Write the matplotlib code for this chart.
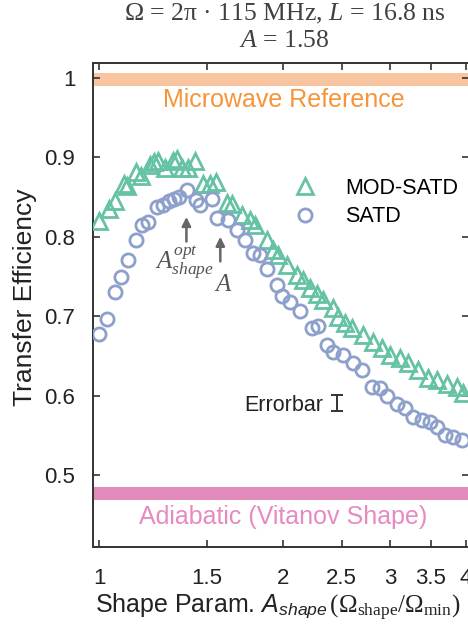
import matplotlib
matplotlib.use('Agg')
import matplotlib.pyplot as plt
from matplotlib.ticker import NullLocator

plt.rcParams['font.family'] = ['Liberation Sans', 'DejaVu Sans']
plt.rcParams['mathtext.fontset'] = 'custom'
plt.rcParams['mathtext.rm'] = 'Liberation Serif'
plt.rcParams['mathtext.it'] = 'Liberation Serif:italic'
plt.rcParams['mathtext.sf'] = 'Liberation Sans:italic'

# MOD-SATD transfer efficiency vs shape parameter
mod_x = [1.00, 1.036, 1.062, 1.098, 1.112, 1.150, 1.172, 1.210, 1.230, 1.248,
         1.284, 1.321, 1.343, 1.367, 1.398, 1.434, 1.480, 1.518, 1.556, 1.619,
         1.650, 1.713, 1.768, 1.802, 1.883, 1.931, 1.967, 2.033, 2.109, 2.162,
         2.218, 2.280, 2.332, 2.423, 2.469, 2.532, 2.597, 2.714, 2.818, 2.908,
         3.002, 3.117, 3.216, 3.340, 3.469, 3.580, 3.719, 3.863, 3.960]
mod_y = [0.820, 0.835, 0.845, 0.866, 0.864, 0.881, 0.876, 0.890, 0.894, 0.895,
         0.886, 0.895, 0.898, 0.887, 0.887, 0.895, 0.867, 0.867, 0.869, 0.842,
         0.841, 0.828, 0.821, 0.815, 0.796, 0.783, 0.777, 0.764, 0.752, 0.746,
         0.735, 0.728, 0.720, 0.710, 0.699, 0.691, 0.685, 0.676, 0.668, 0.660,
         0.651, 0.647, 0.641, 0.632, 0.622, 0.620, 0.615, 0.611, 0.603]

# SATD transfer efficiency vs shape parameter
satd_x = [1.00, 1.030, 1.062, 1.087, 1.115, 1.150, 1.177, 1.202, 1.244, 1.272,
          1.301, 1.326, 1.350, 1.395, 1.443, 1.461, 1.529, 1.558, 1.628, 1.681,
          1.735, 1.790, 1.836, 1.883, 1.956, 1.993, 2.057, 2.136, 2.232, 2.289,
          2.362, 2.423, 2.515, 2.612, 2.697, 2.801, 2.890, 2.964, 3.078, 3.177,
          3.278, 3.383, 3.491, 3.580, 3.694, 3.813, 3.936]
satd_y = [0.677, 0.697, 0.730, 0.749, 0.771, 0.796, 0.815, 0.818, 0.837, 0.840,
          0.845, 0.848, 0.850, 0.859, 0.846, 0.840, 0.848, 0.823, 0.821, 0.809,
          0.796, 0.779, 0.777, 0.760, 0.739, 0.725, 0.718, 0.706, 0.685, 0.687,
          0.664, 0.655, 0.651, 0.641, 0.632, 0.611, 0.609, 0.599, 0.590, 0.584,
          0.573, 0.569, 0.567, 0.561, 0.550, 0.548, 0.544]

# reference levels (bands: low, high)
microwave_band = (0.990, 1.006)
adiabatic_band = (0.4685, 0.4845)

a_opt = 1.39
a_used = 1.58
err_x, err_y, err_half = 2.46, 0.5907, 0.0105

xticks = [1, 1.5, 2, 2.5, 3, 3.5, 4]
xticklabels = ['1', '1.5', '2', '2.5', '3', '3.5', '4']
yticks = [0.5, 0.6, 0.7, 0.8, 0.9, 1.0]
yticklabels = ['0.5', '0.6', '0.7', '0.8', '0.9', '1']

green = '#66c2a5'
blue = '#8da0cb'
dark = '#222222'

fig = plt.figure(figsize=(4.68, 6.32), dpi=100)
ax = fig.add_axes([0.1994, 0.135, 0.8038, 0.7649])
ax.set_xscale('log')
ax.set_xlim(0.9776, 4.053)
ax.set_ylim(0.4097, 1.0185)

ax.axhspan(*microwave_band, color='#f9c4a0', lw=0, zorder=1)
ax.axhspan(*adiabatic_band, color='#e28ab9', lw=0, zorder=1)
ax.text(0.507, 0.972, 'Microwave Reference', transform=ax.get_yaxis_transform(),
        ha='center', va='center', fontsize=18, color='#f7943a')
ax.text(0.505, 0.447, 'Adiabatic (Vitanov Shape)', transform=ax.get_yaxis_transform(),
        ha='center', va='center', fontsize=18, color='#e68ac0')

ax.plot(mod_x, mod_y, ls='none', marker='^', ms=12, mfc='none', mec=green,
        mew=2.0, label='MOD-SATD', zorder=3)
ax.plot(satd_x, satd_y, ls='none', marker='o', ms=9.5, mfc='none', mec=blue,
        mew=2.0, label='SATD', zorder=3)

# arrows marking the optimum and the chosen shape parameter
arrow = dict(arrowstyle='-|>', color='#666666', lw=1.8, mutation_scale=13,
             shrinkA=0, shrinkB=0)
ax.annotate('', xy=(a_opt, 0.825), xytext=(a_opt, 0.794), arrowprops=arrow)
ax.annotate('', xy=(a_used, 0.800), xytext=(a_used, 0.769), arrowprops=arrow)
ax.text(a_opt - 0.01, 0.768, r'$A_{shape}^{opt}$', ha='center', va='center',
        fontsize=18, color='#555555')
ax.text(a_used + 0.02, 0.741, r'$A$', ha='center', va='center',
        fontsize=18, color='#555555')

ax.errorbar([err_x], [err_y], yerr=err_half, fmt='none', ecolor='#333333',
            elinewidth=1.4, capsize=4.3, capthick=1.4)
ax.text(2.33, 0.588, 'Errorbar', ha='right', va='center', fontsize=15.5, color=dark)

ax.legend(loc='upper left', bbox_to_anchor=(0.534, 0.763), frameon=False,
          fontsize=15.5, handlelength=1.0, handletextpad=1.35, labelspacing=0.35,
          borderpad=0, borderaxespad=0)

ax.set_xticks(xticks)
ax.set_xticklabels(xticklabels)
ax.xaxis.set_minor_locator(NullLocator())
ax.set_yticks(yticks)
ax.set_yticklabels(yticklabels)
ax.tick_params(axis='both', direction='in', top=True, right=True, length=5,
               width=1.2, colors='#333333', labelcolor=dark, labelsize=16)
ax.tick_params(axis='y', pad=13)
ax.tick_params(axis='x', pad=15)
for s in ax.spines.values():
    s.set_linewidth(1.4)
    s.set_color('#333333')

ax.set_ylabel('Transfer Efficiency', fontsize=19, color=dark)
ax.yaxis.set_label_coords(-0.150, 0.517)
ax.set_xlabel(r'Shape Param. $\mathsf{A}_{\mathsf{shape}}\,(\Omega_{\mathrm{shape}}/\Omega_{\mathrm{min}})$',
              fontsize=18, color=dark)
ax.xaxis.set_label_coords(0.49, -0.094)

fig.text(0.608, 0.978, 'Ω = 2π · 115 MHz, $L$ = 16.8 ns', ha='center', va='center',
         fontsize=18.5, color='#404040', family='Liberation Serif')
fig.text(0.608, 0.935, '$A$ = 1.58', ha='center', va='center',
         fontsize=18.5, color='#404040', family='Liberation Serif')

fig.savefig('out.png', dpi=100)
